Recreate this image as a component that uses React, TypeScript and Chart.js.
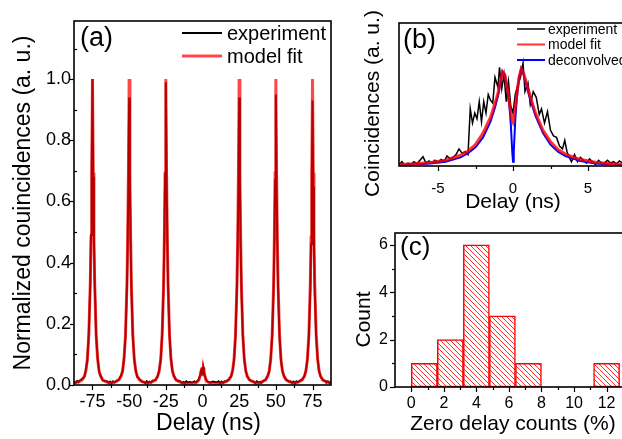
import React, { useEffect, useRef } from 'react';
import { Chart, registerables } from 'chart.js';

Chart.register(...registerables);

const FONT = '"Liberation Sans", Arial, Helvetica, sans-serif';

// ---------------- Panel (a): full correlation histogram ----------------
const A_PEAK_CENTERS = [-75, -50, -25, 25, 50, 75];
const A_PEAK_OFFSETS = [-9, -7, -5.5, -4.5, -3.5, -2.5, -1.5, -1, -0.5, 0, 0.5, 1, 1.5, 2.5, 3.5, 4.5, 5.5, 7, 9];
const A_FIT_PEAK = [0.011, 0.017, 0.029, 0.046, 0.084, 0.164, 0.334, 0.484, 0.694, 1.0, 0.694, 0.484, 0.334, 0.164, 0.084, 0.046, 0.029, 0.017, 0.011];
const A_ZERO_FIT = [0.0044, 0.0048, 0.006, 0.0073, 0.010, 0.016, 0.032, 0.045, 0.056, 0.029, 0.056, 0.045, 0.032, 0.016, 0.010, 0.0073, 0.006, 0.0048, 0.0044];
const A_FIT_BASE_T = [-87.6, -62.5, -37.5, -12.5, 12.5, 37.5, 62.5, 87.6];
const A_FIT_BASE_Y = [0.006, 0.005, 0.005, 0.005, 0.005, 0.005, 0.005, 0.006];

const A_EXP_PEAK_M75 = [0.013, 0.02, 0.027, 0.05, 0.08, 0.17, 0.33, 0.49, 0.7, 1.0, 0.68, 0.47, 0.34, 0.16, 0.09, 0.044, 0.031, 0.015, 0.012];
const A_EXP_PEAK_M50 = [0.012, 0.018, 0.031, 0.044, 0.086, 0.16, 0.32, 0.46, 0.66, 0.94, 0.66, 0.47, 0.32, 0.16, 0.082, 0.048, 0.027, 0.019, 0.01];
const A_EXP_PEAK_M25 = [0.014, 0.016, 0.03, 0.048, 0.082, 0.165, 0.33, 0.48, 0.69, 0.99, 0.68, 0.48, 0.33, 0.165, 0.086, 0.045, 0.03, 0.016, 0.013];
const A_EXP_PEAK_P25 = [0.011, 0.019, 0.028, 0.047, 0.08, 0.16, 0.32, 0.46, 0.65, 0.94, 0.66, 0.46, 0.32, 0.16, 0.083, 0.047, 0.028, 0.017, 0.012];
const A_EXP_PEAK_P50 = [0.012, 0.017, 0.03, 0.045, 0.085, 0.16, 0.32, 0.47, 0.67, 0.95, 0.66, 0.46, 0.32, 0.162, 0.08, 0.046, 0.03, 0.018, 0.011];
const A_EXP_PEAK_P75 = [0.013, 0.018, 0.029, 0.047, 0.082, 0.158, 0.31, 0.46, 0.65, 0.93, 0.65, 0.45, 0.31, 0.16, 0.084, 0.045, 0.028, 0.016, 0.013];
const A_EXP_ZERO = [0.01, 0.008, 0.012, 0.009, 0.013, 0.018, 0.033, 0.047, 0.057, 0.032, 0.058, 0.046, 0.03, 0.017, 0.011, 0.01, 0.008, 0.011, 0.009];
const A_EXP_BASE_T = [-87.6, -86.5, -85.5, -84.5, -65, -64, -63, -62, -61, -60, -40, -39, -38, -37, -36, -35, -15, -14, -13, -12, -11, -10, 10, 11, 12, 13, 14, 15, 35, 36, 37, 38, 39, 40, 60, 61, 62, 63, 64, 65, 84.5, 85.5, 86.5, 87.6];
const A_EXP_BASE_Y = [0.012, 0.007, 0.013, 0.009, 0.012, 0.007, 0.011, 0.006, 0.012, 0.008, 0.01, 0.006, 0.012, 0.007, 0.011, 0.008, 0.011, 0.006, 0.01, 0.007, 0.012, 0.008, 0.009, 0.012, 0.006, 0.011, 0.007, 0.012, 0.011, 0.006, 0.012, 0.008, 0.01, 0.007, 0.012, 0.007, 0.011, 0.006, 0.012, 0.009, 0.008, 0.012, 0.007, 0.011];

const A_X_TICKS = [-75, -50, -25, 0, 25, 50, 75];
const A_X_MINOR = [-62.5, -37.5, -12.5, 12.5, 37.5, 62.5];
const A_Y_TICKS = [0, 0.2, 0.4, 0.6, 0.8, 1.0];
const A_Y_MINOR = [0.1, 0.3, 0.5, 0.7, 0.9, 1.1];

// ---------------- Panel (b): zero-delay peak ----------------
const B_EXP_T = [-7.6, -7.4, -7.2, -7.0, -6.8, -6.6, -6.4, -6.2, -6.0, -5.8, -5.6, -5.4, -5.2, -5.0, -4.8, -4.6, -4.4, -4.2, -4.0, -3.8, -3.6, -3.4, -3.2, -3.0, -2.85, -2.7, -2.55, -2.4, -2.25, -2.1, -1.95, -1.8, -1.65, -1.5, -1.35, -1.2, -1.0, -0.9, -0.75, -0.6, -0.45, -0.3, -0.15, 0.0, 0.15, 0.33, 0.5, 0.67, 0.8, 1.0, 1.15, 1.35, 1.55, 1.75, 1.9, 2.1, 2.3, 2.5, 2.7, 2.9, 3.1, 3.3, 3.45, 3.6, 3.75, 3.9, 4.1, 4.3, 4.5, 4.7, 4.9, 5.1, 5.3, 5.5, 5.7, 5.9, 6.1, 6.3, 6.5, 6.7, 6.9, 7.1, 7.3, 7.5];
const B_EXP_Y = [0.01, 0.03, 0.0, 0.02, 0.01, 0.03, 0.015, 0.04, 0.065, 0.02, 0.035, 0.02, 0.04, 0.025, 0.045, 0.03, 0.07, 0.05, 0.06, 0.08, 0.12, 0.09, 0.1, 0.08, 0.4, 0.3, 0.37, 0.33, 0.45, 0.31, 0.45, 0.37, 0.5, 0.46, 0.44, 0.62, 0.55, 0.69, 0.54, 0.64, 0.45, 0.59, 0.42, 0.37, 0.5, 0.57, 0.62, 0.72, 0.52, 0.58, 0.43, 0.52, 0.48, 0.36, 0.4, 0.3, 0.38, 0.25, 0.21, 0.2, 0.14, 0.12, 0.18, 0.1, 0.06, 0.03, 0.08, 0.03, 0.06, 0.04, 0.02, 0.05, 0.03, 0.01, 0.04, 0.02, 0.02, 0.04, 0.02, 0.03, 0.015, 0.035, 0.02, 0.03];
const B_FIT_T = [-7.6, -6.5, -5.5, -4.5, -3.5, -3.0, -2.5, -2.0, -1.5, -1.2, -1.0, -0.85, -0.7, -0.55, -0.4, -0.25, -0.1, 0, 0.1, 0.25, 0.4, 0.55, 0.7, 0.85, 1.0, 1.2, 1.5, 2.0, 2.5, 3.0, 3.5, 4.5, 5.5, 6.5, 7.6];
const B_FIT_Y = [0.01, 0.016, 0.024, 0.04, 0.075, 0.105, 0.15, 0.23, 0.34, 0.44, 0.51, 0.59, 0.66, 0.64, 0.56, 0.45, 0.34, 0.31, 0.36, 0.5, 0.62, 0.68, 0.65, 0.6, 0.54, 0.47, 0.37, 0.25, 0.17, 0.115, 0.083, 0.045, 0.026, 0.016, 0.01];
const B_DEC_T = [-7.6, -6.5, -5.5, -4.5, -3.5, -3.0, -2.5, -2.0, -1.5, -1.2, -1.0, -0.85, -0.7, -0.55, -0.4, -0.25, -0.15, -0.05, 0, 0.05, 0.15, 0.25, 0.4, 0.55, 0.7, 0.85, 1.0, 1.2, 1.5, 2.0, 2.5, 3.0, 3.5, 4.5, 5.5, 6.5, 7.6];
const B_DEC_Y = [0.006, 0.01, 0.017, 0.03, 0.06, 0.09, 0.13, 0.2, 0.31, 0.41, 0.49, 0.57, 0.66, 0.64, 0.55, 0.43, 0.3, 0.1, 0.03, 0.1, 0.32, 0.47, 0.61, 0.68, 0.64, 0.58, 0.52, 0.45, 0.35, 0.23, 0.15, 0.1, 0.07, 0.035, 0.018, 0.01, 0.006];
const B_X_TICKS = [-5, 0, 5];
const B_X_MINOR = [-2.5, 2.5];

// ---------------- Panel (c): histogram ----------------
const C_BIN_CENTERS = [0.8, 2.4, 4.0, 5.6, 7.2, 8.8, 10.4, 12.0];
const C_COUNTS = [1, 2, 6, 3, 1, 0, 0, 1];
const C_X_TICKS = [0, 2, 4, 6, 8, 10, 12];
const C_X_MINOR = [1, 3, 5, 7, 9, 11, 13];
const C_Y_TICKS = [0, 2, 4, 6];
const C_Y_MINOR = [1, 3, 5];

// ---------------- helpers ----------------
type P = { x: number; y: number };
const pts = (xs: number[], ys: number[]): P[] => xs.map((x, i) => ({ x, y: ys[i] }));
const shift = (c: number) => A_PEAK_OFFSETS.map((o) => c + o);
const byX = (a: P, b: P) => a.x - b.x;

const A_EXP_PROFILES = [A_EXP_PEAK_M75, A_EXP_PEAK_M50, A_EXP_PEAK_M25, A_EXP_PEAK_P25, A_EXP_PEAK_P50, A_EXP_PEAK_P75];

const A_FIT_POINTS: P[] = [
  ...A_PEAK_CENTERS.flatMap((c) => pts(shift(c), A_FIT_PEAK)),
  ...pts(shift(0), A_ZERO_FIT),
  ...pts(A_FIT_BASE_T, A_FIT_BASE_Y),
].sort(byX);

const A_EXP_POINTS: P[] = [
  ...A_PEAK_CENTERS.flatMap((c, i) => pts(shift(c), A_EXP_PROFILES[i])),
  ...pts(shift(0), A_EXP_ZERO),
  ...pts(A_EXP_BASE_T, A_EXP_BASE_Y),
].sort(byX);

const framePlugin = {
  id: 'frame',
  afterDatasetsDraw(chart: any, _args: any, o: any) {
    const { ctx, chartArea: a } = chart;
    const xs = chart.scales.x;
    const ys = chart.scales.y;
    ctx.save();
    ctx.strokeStyle = '#000';
    ctx.lineWidth = 1.2;
    const xt = (list: number[], len: number) => {
      (list || []).forEach((v) => {
        const p = Math.round(xs.getPixelForValue(v)) + 0.5;
        ctx.beginPath();
        ctx.moveTo(p, a.bottom);
        ctx.lineTo(p, a.bottom + len);
        ctx.stroke();
      });
    };
    const yt = (list: number[], len: number) => {
      (list || []).forEach((v) => {
        const p = Math.round(ys.getPixelForValue(v)) + 0.5;
        ctx.beginPath();
        ctx.moveTo(a.left, p);
        ctx.lineTo(a.left - len, p);
        ctx.stroke();
      });
    };
    xt(o.xMajor, o.xMajorLen);
    xt(o.xMinor, o.xMinorLen);
    yt(o.yMajor, o.yMajorLen);
    yt(o.yMinor, o.yMinorLen);
    ctx.lineWidth = 1.6;
    ctx.strokeRect(a.left, a.top, a.right - a.left, a.bottom - a.top);
    ctx.restore();
  },
};

const annotPlugin = {
  id: 'annot',
  afterDraw(chart: any, _args: any, o: any) {
    const ctx = chart.ctx;
    ctx.save();
    ctx.fillStyle = '#000';
    if (o.label) {
      ctx.font = `${o.label.size}px ${FONT}`;
      ctx.textAlign = 'left';
      ctx.textBaseline = 'middle';
      ctx.fillText(o.label.text, o.label.x, o.label.y);
    }
    (o.titles || []).forEach((t: any) => {
      ctx.save();
      ctx.translate(t.x, t.y);
      if (t.rot) ctx.rotate(t.rot);
      ctx.font = `${t.size}px ${FONT}`;
      ctx.textAlign = 'center';
      ctx.textBaseline = 'middle';
      ctx.fillText(t.text, 0, 0);
      ctx.restore();
    });
    if (o.legend) {
      const L = o.legend;
      chart.data.datasets.forEach((ds: any, i: number) => {
        const y = L.y + i * L.rowH;
        ctx.strokeStyle = ds.borderColor;
        ctx.lineWidth = L.widths[i];
        ctx.beginPath();
        ctx.moveTo(L.x, y);
        ctx.lineTo(L.x + L.len, y);
        ctx.stroke();
        ctx.font = `${L.size}px ${FONT}`;
        ctx.textAlign = 'left';
        ctx.textBaseline = 'middle';
        ctx.fillText(ds.label, L.x + L.len + L.gap, y + L.textDy);
      });
    }
    ctx.restore();
  },
};

const baseOpts = {
  responsive: false,
  maintainAspectRatio: false,
  animation: false,
  devicePixelRatio: 1,
  events: [],
};

const noGrid = { display: false, drawTicks: false };

function makeA(canvas: HTMLCanvasElement) {
  return new Chart(canvas, {
    type: 'line',
    data: {
      datasets: [
        { label: 'experiment', data: A_EXP_POINTS, borderColor: '#000', borderWidth: 2, pointRadius: 0, tension: 0, order: 2 },
        { label: 'model fit', data: A_FIT_POINTS, borderColor: 'rgba(255,0,0,0.72)', borderWidth: 3, pointRadius: 0, tension: 0, order: 1 },
      ],
    },
    options: {
      ...baseOpts,
      layout: { padding: { top: 21, right: 9, left: 0, bottom: 0 } },
      plugins: {
        legend: { display: false },
        tooltip: { enabled: false },
        frame: { xMajor: A_X_TICKS, xMinor: A_X_MINOR, yMajor: A_Y_TICKS, yMinor: A_Y_MINOR, xMajorLen: 5, xMinorLen: 3, yMajorLen: 4, yMinorLen: -3 },
        annot: {
          label: { text: '(a)', x: 80, y: 39, size: 27 },
          titles: [{ text: 'Delay (ns)', x: 208.5, y: 424, size: 23 }],
          legend: { x: 182, y: 33, len: 40, gap: 5, rowH: 23, size: 20, textDy: 1.5, widths: [2, 3] },
        },
      },
      scales: {
        x: {
          type: 'linear',
          min: -87.6,
          max: 87.6,
          afterBuildTicks: (s: any) => { s.ticks = A_X_TICKS.map((v) => ({ value: v })); },
          afterFit: (s: any) => { s.height = 54; },
          grid: noGrid,
          border: { display: false },
          ticks: { font: { size: 18, family: FONT }, color: '#000', padding: 6, maxRotation: 0, autoSkip: false, callback: (v: any) => String(v) },
          title: { display: false, text: 'Delay (ns)' },
        },
        y: {
          type: 'linear',
          min: 0,
          max: 1.19,
          afterBuildTicks: (s: any) => { s.ticks = A_Y_TICKS.map((v) => ({ value: v })); },
          afterFit: (s: any) => { s.width = 74; },
          grid: noGrid,
          border: { display: false },
          ticks: { font: { size: 18, family: FONT }, color: '#000', padding: 3, autoSkip: false, callback: (v: any) => Number(v).toFixed(1) },
          title: { display: true, text: 'Normalized couincidences (a. u.)', font: { size: 23, family: FONT }, color: '#000', padding: { top: 10, bottom: 0 } },
        },
      },
    } as any,
    plugins: [framePlugin, annotPlugin],
  } as any);
}

function makeB(canvas: HTMLCanvasElement) {
  return new Chart(canvas, {
    type: 'line',
    data: {
      datasets: [
        { label: 'experiment', data: pts(B_EXP_T, B_EXP_Y), borderColor: '#000', borderWidth: 1.5, pointRadius: 0, tension: 0, order: 3 },
        { label: 'model fit', data: pts(B_FIT_T, B_FIT_Y), borderColor: 'rgba(255,0,0,0.8)', borderWidth: 3, pointRadius: 0, tension: 0, order: 1 },
        { label: 'deconvolved', data: pts(B_DEC_T, B_DEC_Y), borderColor: '#0000ff', borderWidth: 2, pointRadius: 0, tension: 0, order: 2 },
      ],
    },
    options: {
      ...baseOpts,
      layout: { padding: { top: 23, right: 13, left: 0, bottom: 0 } },
      plugins: {
        legend: { display: false },
        tooltip: { enabled: false },
        frame: { xMajor: B_X_TICKS, xMinor: B_X_MINOR, yMajor: [], yMinor: [], xMajorLen: 5, xMinorLen: 3, yMajorLen: 0, yMinorLen: 0 },
        annot: {
          label: { text: '(b)', x: 63, y: 41, size: 27 },
          titles: [{ text: 'Coincidences (a. u.)', x: 33.5, y: 103.5, size: 21, rot: -Math.PI / 2 }],
          legend: { x: 177, y: 29, len: 28, gap: 3, rowH: 15.5, size: 14, textDy: 1, widths: [1.5, 2, 2] },
        },
      },
      scales: {
        x: {
          type: 'linear',
          min: -7.6,
          max: 7.6,
          afterBuildTicks: (s: any) => { s.ticks = B_X_TICKS.map((v) => ({ value: v })); },
          afterFit: (s: any) => { s.height = 54; },
          grid: noGrid,
          border: { display: false },
          ticks: { font: { size: 15, family: FONT }, color: '#000', padding: 14, maxRotation: 0, autoSkip: false, callback: (v: any) => String(v) },
          title: { display: true, text: 'Delay (ns)', font: { size: 21, family: FONT }, color: '#000', padding: { top: 0, bottom: 5 } },
        },
        y: {
          type: 'linear',
          min: 0,
          max: 1,
          afterFit: (s: any) => { s.width = 59; },
          grid: noGrid,
          border: { display: false },
          ticks: { display: false },
          title: { display: false, text: 'Coincidences (a. u.)' },
        },
      },
    } as any,
    plugins: [framePlugin, annotPlugin],
  } as any);
}

function makeHatch(): CanvasPattern | string {
  const s = 5;
  const c = document.createElement('canvas');
  c.width = s;
  c.height = s;
  const g = c.getContext('2d');
  if (!g) return '#fff';
  g.fillStyle = '#fff';
  g.fillRect(0, 0, s, s);
  g.strokeStyle = '#ff3030';
  g.lineWidth = 1;
  g.beginPath();
  g.moveTo(0, 0);
  g.lineTo(s, s);
  g.moveTo(-1, s - 1);
  g.lineTo(1, s + 1);
  g.moveTo(s - 1, -1);
  g.lineTo(s + 1, 1);
  g.stroke();
  const p = g.createPattern(c, 'repeat');
  return p || '#fff';
}

function makeC(canvas: HTMLCanvasElement) {
  const hatch = makeHatch();
  return new Chart(canvas, {
    type: 'bar',
    data: {
      datasets: [
        {
          label: 'Count',
          data: pts(C_BIN_CENTERS, C_COUNTS),
          backgroundColor: hatch,
          borderColor: '#ff0000',
          borderWidth: (ctx: any) => (ctx.raw && ctx.raw.y ? 1.5 : 0),
          borderSkipped: false,
          barPercentage: 1,
          categoryPercentage: 1,
        },
      ],
    },
    options: {
      ...baseOpts,
      layout: { padding: { top: 18, right: 9, left: 0, bottom: 0 } },
      plugins: {
        legend: { display: false },
        tooltip: { enabled: false },
        frame: { xMajor: C_X_TICKS, xMinor: C_X_MINOR, yMajor: C_Y_TICKS, yMinor: C_Y_MINOR, xMajorLen: 5, xMinorLen: 3, yMajorLen: 5, yMinorLen: 3 },
        annot: {
          label: { text: '(c)', x: 80, y: 33, size: 26 },
          titles: [{ text: 'Count', x: 44, y: 104.5, size: 21, rot: -Math.PI / 2 }],
        },
      },
      scales: {
        x: {
          type: 'linear',
          min: -1,
          max: 13.5,
          offset: false,
          afterBuildTicks: (s: any) => { s.ticks = C_X_TICKS.map((v) => ({ value: v })); },
          afterFit: (s: any) => { s.height = 52; },
          grid: { display: false, drawTicks: false, offset: false },
          border: { display: false },
          ticks: { font: { size: 16, family: FONT }, color: '#000', padding: 7, maxRotation: 0, autoSkip: false, callback: (v: any) => String(v) },
          title: { display: true, text: 'Zero delay counts (%)', font: { size: 21, family: FONT }, color: '#000', padding: { top: 0, bottom: 2 } },
        },
        y: {
          type: 'linear',
          min: 0,
          max: 6.5,
          afterBuildTicks: (s: any) => { s.ticks = C_Y_TICKS.map((v) => ({ value: v })); },
          afterFit: (s: any) => { s.width = 75; },
          grid: noGrid,
          border: { display: false },
          ticks: { font: { size: 16, family: FONT }, color: '#000', padding: 7, autoSkip: false, callback: (v: any) => String(v) },
          title: { display: false, text: 'Count' },
        },
      },
    } as any,
    plugins: [framePlugin, annotPlugin],
  } as any);
}

function ChartCanvas(props: { make: (c: HTMLCanvasElement) => Chart; left: number; top: number; width: number; height: number }) {
  const ref = useRef<HTMLCanvasElement>(null);
  useEffect(() => {
    if (!ref.current) return;
    const chart = props.make(ref.current);
    return () => chart.destroy();
  }, []);
  return (
    <canvas
      ref={ref}
      width={props.width}
      height={props.height}
      style={{ position: 'absolute', left: props.left, top: props.top, width: props.width, height: props.height, display: 'block' }}
    />
  );
}

export default function App() {
  return (
    <div style={{ position: 'fixed', left: 0, top: 0, width: 622, height: 439, overflow: 'hidden', background: '#fff' }}>
      <ChartCanvas make={makeA} left={0} top={0} width={340} height={439} />
      <ChartCanvas make={makeB} left={340} top={0} width={300} height={220} />
      <ChartCanvas make={makeC} left={320} top={215} width={320} height={224} />
    </div>
  );
}
